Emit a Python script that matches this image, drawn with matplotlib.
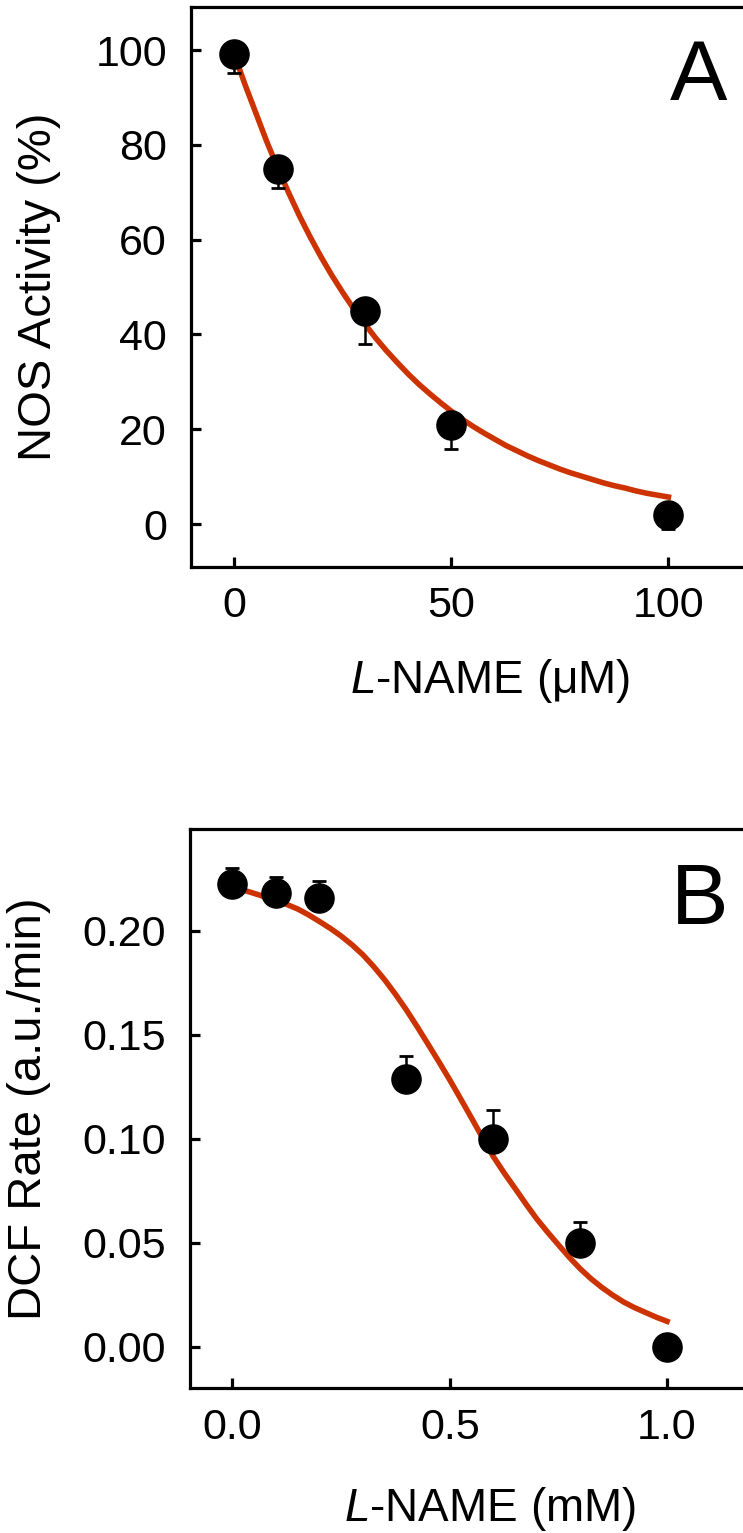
import matplotlib
matplotlib.use('Agg')
import matplotlib.pyplot as plt

plt.rcParams['font.family'] = ['Liberation Sans', 'DejaVu Sans']
plt.rcParams['mathtext.fontset'] = 'custom'
plt.rcParams['mathtext.it'] = 'Liberation Sans:italic'
plt.rcParams['mathtext.rm'] = 'Liberation Sans'

# panel A: NOS activity vs L-NAME (uM)
a_x = [0, 10, 30, 50, 100]
a_y = [99.2, 74.8, 45.0, 20.8, 2.0]
a_err = [4.0, 4.0, 7.0, 5.0, 3.0]
# fitted curve
a_fit_x = [0, 2.5, 5, 7.5, 10, 12.5, 15, 17.5, 20, 22.5, 25, 27.5, 30, 32.5, 35, 37.5, 40,
           42.5, 45, 47.5, 50, 52.5, 55, 57.5, 60, 62.5, 65, 67.5, 70, 72.5, 75, 77.5, 80,
           82.5, 85, 87.5, 90, 92.5, 95, 97.5, 100]
a_fit_y = [99.0, 92.6, 86.6, 80.6, 75.1, 69.9, 65.0, 60.5, 56.3, 52.4, 48.8, 45.4, 42.3,
           39.3, 36.6, 34.1, 31.7, 29.5, 27.5, 25.6, 23.8, 22.1, 20.6, 19.2, 17.9, 16.6,
           15.5, 14.4, 13.4, 12.5, 11.6, 10.8, 10.1, 9.4, 8.7, 8.1, 7.6, 7.0, 6.5, 6.1, 5.7]
a_xticks = [0, 50, 100]
a_yticks = [0, 20, 40, 60, 80, 100]

# panel B: DCF rate vs L-NAME (mM)
b_x = [0.0, 0.1, 0.2, 0.4, 0.6, 0.8, 1.0]
b_y = [0.2225, 0.2183, 0.216, 0.1288, 0.100, 0.050, 0.000]
b_err = [0.0075, 0.0077, 0.008, 0.011, 0.0136, 0.010, 0.0]
b_fit_x = [0.0, 0.025, 0.05, 0.075, 0.1, 0.125, 0.15, 0.175, 0.2, 0.225, 0.25, 0.275, 0.3,
           0.325, 0.35, 0.375, 0.4, 0.425, 0.45, 0.475, 0.5, 0.525, 0.55, 0.575, 0.6,
           0.625, 0.65, 0.675, 0.7, 0.725, 0.75, 0.775, 0.8, 0.825, 0.85, 0.875, 0.9,
           0.925, 0.95, 0.975, 1.0]
b_fit_y = [0.221, 0.2196, 0.218, 0.2163, 0.2145, 0.2127, 0.2105, 0.2077, 0.2045, 0.2012,
           0.1975, 0.1933, 0.1885, 0.1828, 0.1765, 0.1695, 0.162, 0.1539, 0.1455, 0.1370,
           0.1283, 0.1192, 0.110, 0.1006, 0.0915, 0.0836, 0.0762, 0.0687, 0.0615, 0.0551,
           0.049, 0.0430, 0.0375, 0.0327, 0.0285, 0.0248, 0.0215, 0.0188, 0.0165, 0.0142,
           0.0122]
b_xticks = [0.0, 0.5, 1.0]
b_yticks = [0.00, 0.05, 0.10, 0.15, 0.20]

red = '#cc3300'

fig = plt.figure(figsize=(7.43, 15.33), dpi=100)
axA = fig.add_axes([0.2567, 0.6303, 0.8066, 0.3649])
axB = fig.add_axes([0.2557, 0.0944, 0.8076, 0.3646])


def style(ax):
    for s in ax.spines.values():
        s.set_linewidth(2.3)
    ax.tick_params(direction='in', length=7, width=2.3, labelsize=31,
                   top=False, right=False)
    ax.tick_params(axis='y', pad=17)
    ax.tick_params(axis='x', pad=14)


# A
axA.plot(a_fit_x, a_fit_y, color=red, lw=4, zorder=2)
axA.errorbar(a_x, a_y, yerr=[a_err, [0] * len(a_err)], fmt='none', ecolor='black',
             elinewidth=1.8, capsize=5, capthick=2, zorder=3)
axA.plot(a_x, a_y, 'o', color='black', ms=21, zorder=4)
axA.set_xlim(-10.05, 128)
axA.set_ylim(-9.0, 109.0)
axA.set_xticks(a_xticks)
axA.set_yticks(a_yticks)
style(axA)
axA.set_ylabel('NOS Activity (%)', fontsize=34, labelpad=25)
axA.set_xlabel(r'$\it{L}$-NAME (μM)', fontsize=33, labelpad=22)
fig.text(699 / 743, 1 - 99.5 / 1533, 'A', fontsize=62, ha='center', va='baseline')

# B
axB.plot(b_fit_x, b_fit_y, color=red, lw=4, zorder=2)
axB.errorbar(b_x, b_y, yerr=[[0] * len(b_err), b_err], fmt='none', ecolor='black',
             elinewidth=1.8, capsize=5, capthick=2, zorder=3)
axB.plot(b_x, b_y, 'o', color='black', ms=21, zorder=4)
axB.set_xlim(-0.0978, 1.283)
axB.set_ylim(-0.0200, 0.2488)
axB.set_xticks(b_xticks)
axB.set_yticks(b_yticks)
axB.set_xticklabels(['0.0', '0.5', '1.0'])
axB.set_yticklabels(['0.00', '0.05', '0.10', '0.15', '0.20'])
style(axB)
axB.set_ylabel('DCF Rate (a.u./min)', fontsize=34, labelpad=23)
axB.set_xlabel(r'$\it{L}$-NAME (mM)', fontsize=33, labelpad=27)
fig.text(700 / 743, 1 - 923.5 / 1533, 'B', fontsize=62, ha='center', va='baseline')

fig.savefig('out.png', dpi=100)
